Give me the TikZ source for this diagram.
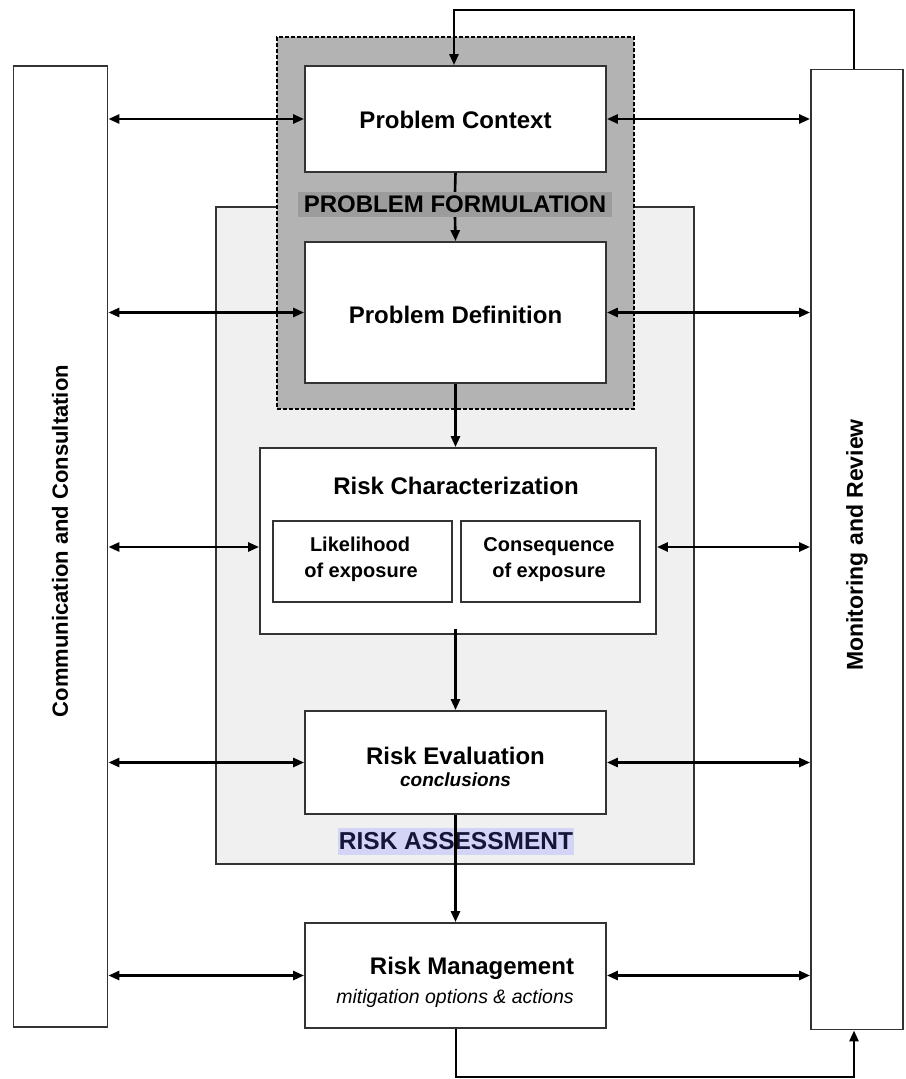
\documentclass[tikz,border=0pt]{standalone}
\usepackage{fontspec}
\setmainfont{Liberation Sans}
\usetikzlibrary{arrows.meta}
\definecolor{pfgray}{HTML}{B3B3B3}
\definecolor{pflabel}{HTML}{9C9C9C}
\definecolor{rafill}{HTML}{F0F0F0}
\definecolor{ralabel}{HTML}{D4D4F7}
\definecolor{ratext}{HTML}{15153A}
\definecolor{edge}{HTML}{333333}
\begin{document}
\begin{tikzpicture}[x=1pt,y=-1pt,
  box/.style={draw=edge, line width=1.8pt, fill=white, inner sep=0pt},
  ttl/.style={inner sep=0pt, anchor=base, font=\fontsize{24}{28}\selectfont\bfseries},
  sub/.style={inner sep=0pt, anchor=base, font=\fontsize{20}{24}\selectfont\bfseries},
  conn/.style={line width=2.6pt, -{Triangle[length=11pt,width=9pt]}},
  dbl/.style={line width=2.6pt, {Triangle[length=11pt,width=9pt]}-{Triangle[length=11pt,width=9pt]}},
  plain/.style={line width=2.6pt},
]
\useasboundingbox (0,0) rectangle (905,1079);

% side columns
\node[box, minimum width=94pt, minimum height=961pt] (lb) at (60.5,546.5) {};
\node[box, minimum width=92pt, minimum height=960pt] (rb) at (857,549.5) {};
\node[rotate=90, inner sep=0pt, font=\fontsize{22}{26}\selectfont\bfseries] (lbt) at (60,541) {Communication and Consultation};
\node[rotate=90, inner sep=0pt, font=\fontsize{23}{27}\selectfont\bfseries] (rbt) at (857,545) {Monitoring and Review};

% risk assessment region
\node[draw=edge, line width=1.8pt, fill=rafill, minimum width=478pt, minimum height=657pt, inner sep=0pt] (ra) at (455,535.5) {};
% problem formulation region
\node[draw=black, line width=1.8pt, dash pattern=on 4pt off 2pt, fill=pfgray, minimum width=357pt, minimum height=372pt, inner sep=0pt] (pf) at (455.5,223) {};

% main boxes
\node[box, minimum width=301pt, minimum height=106pt] (pc) at (455.5,119) {};
\node[ttl] (pct) at (455.5,128) {Problem Context};
\node[box, minimum width=301pt, minimum height=141pt] (pd) at (455.5,312.5) {};
\node[ttl] (pdt) at (455.5,323) {Problem Definition};

\node[box, minimum width=396pt, minimum height=186pt] (rc) at (458,541) {};
\node[ttl] (rct) at (456,494) {Risk Characterization};
\node[box, minimum width=179pt, minimum height=81pt] (lh) at (362.5,561.5) {};
\node[sub] (lht1) at (360,551) {Likelihood};
\node[sub] (lht2) at (361,577) {of exposure};
\node[box, minimum width=179pt, minimum height=81pt] (cq) at (550.5,561.5) {};
\node[sub] (cqt1) at (549,551) {Consequence};
\node[sub] (cqt2) at (549,577) {of exposure};

\node[box, minimum width=301pt, minimum height=103pt] (re) at (455.5,762.5) {};
\node[ttl] (ret) at (455.5,764) {Risk Evaluation};
\node[inner sep=0pt, anchor=base, font=\fontsize{19}{22}\selectfont\bfseries\itshape] (rec) at (455.5,786) {conclusions};

\node[box, minimum width=301pt, minimum height=105pt] (rm) at (455.5,975.5) {};
\node[ttl] (rmt) at (472,974) {Risk Management};
\node[inner sep=0pt, anchor=base, font=\fontsize{19.5}{22}\selectfont\itshape] (rms) at (455,1003) {mitigation options \& actions};

% labels
\node[fill=pflabel, minimum width=314pt, minimum height=25pt, inner sep=0pt, font=\fontsize{24}{28}\selectfont\bfseries] (pfl) at (455,204.5) {PROBLEM FORMULATION};
\node[fill=ralabel, text=ratext, minimum width=236pt, minimum height=27pt, inner sep=0pt, font=\fontsize{24.5}{28}\selectfont\bfseries] (ral) at (456,841.5) {RISK ASSESSMENT};

% vertical flow
\draw[plain] (pc.south) -- (pfl.north);
\draw[conn] (pfl.south) -- (pd.north);
\draw[conn] (pd.south) -- (rc.north -| pd.south);
\draw[conn] ([yshift=6pt]rc.south -| pd.south) -- (re.north);
\draw[conn] (re.south) -- (rm.north);

% feedback loops
\coordinate (tl) at (454,10);
\coordinate (bl) at (456,1077);
\draw[conn] (rb.north -| 854,0) |- (tl) -- (tl |- pc.north);
\draw[conn] (bl |- rm.south) -- (bl) -| (rb.south -| 854,0);

% horizontal double arrows
\foreach \n in {pc,pd,re,rm}{
  \draw[dbl] (lb.east |- \n.west) -- (\n.west);
  \draw[dbl] (\n.east) -- (rb.west |- \n.east);
}
\coordinate (rcrow) at (0,547);
\draw[dbl] (lb.east |- rcrow) -- (rc.west |- rcrow);
\draw[dbl] (rc.east |- rcrow) -- (rb.west |- rcrow);
\end{tikzpicture}
\end{document}
